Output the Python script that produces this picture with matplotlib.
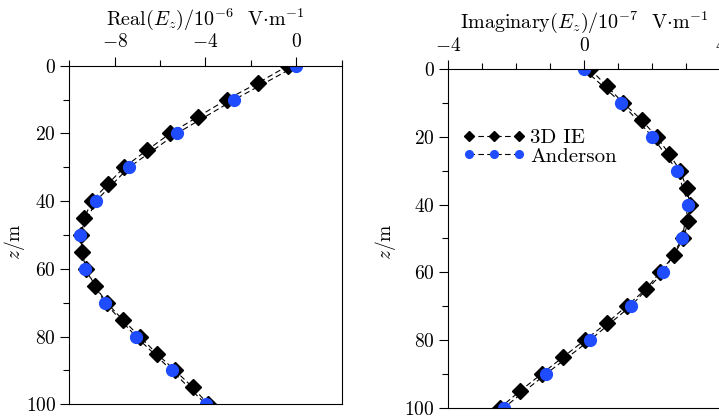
import matplotlib
matplotlib.use("Agg")
import matplotlib.pyplot as plt
from matplotlib.ticker import MultipleLocator

plt.rcParams["font.family"] = ["cmr10", "DejaVu Serif"]
plt.rcParams["mathtext.fontset"] = "cm"
plt.rcParams["axes.formatter.use_mathtext"] = True
plt.rcParams["axes.unicode_minus"] = True

# глубины
z_ie = [0, 5, 10, 15, 20, 25, 30, 35, 40, 45, 50, 55, 60, 65, 70, 75, 80, 85, 90, 95, 100]
z_and = [0, 10, 20, 30, 40, 50, 60, 70, 80, 90, 100]

# Real(Ez), 1e-6 V/m
real_ie = [-0.37, -1.67, -3.07, -4.32, -5.56, -6.59, -7.59, -8.31, -9.01, -9.34, -9.48,
           -9.45, -9.26, -8.87, -8.35, -7.65, -6.89, -6.15, -5.34, -4.56, -3.88]
real_and = [0.0, -2.73, -5.27, -7.37, -8.84, -9.52, -9.30, -8.43, -7.06, -5.49, -3.98]

# Imag(Ez), 1e-7 V/m
imag_ie = [0.18, 0.67, 1.15, 1.69, 2.13, 2.50, 2.82, 3.01, 3.11, 3.06, 2.91,
           2.64, 2.23, 1.82, 1.25, 0.67, 0.03, -0.61, -1.24, -1.87, -2.46]
imag_and = [0.0, 1.10, 2.01, 2.74, 3.06, 2.88, 2.33, 1.37, 0.18, -1.11, -2.35]

fig = plt.figure(figsize=(7.19, 4.19), dpi=100)
ax1 = fig.add_axes([0.0964, 0.035, 0.3788, 0.808])
ax2 = fig.add_axes([0.6227, 0.027, 0.3791, 0.808])

dash = (0, (5, 3))
fs = 14


def draw(ax, x_ie, x_and, xlim, major, label, ylab_x, ylab_y):
    ax.plot(x_ie, z_ie, color="black", linestyle=dash, linewidth=0.8,
            marker="D", markersize=8.5, markerfacecolor="black",
            markeredgecolor="black", label="3D IE")
    ax.plot(x_and, z_and, color="black", linestyle=dash, linewidth=0.8,
            marker="o", markersize=8.5, markerfacecolor="#1f4cff",
            markeredgecolor="#1f4cff", label="Anderson")
    ax.set_xlim(*xlim)
    ax.set_ylim(100, 0)
    ax.xaxis.tick_top()
    ax.xaxis.set_label_position("top")
    ax.xaxis.set_major_locator(MultipleLocator(major))
    ax.xaxis.set_minor_locator(MultipleLocator(major / 2))
    ax.yaxis.set_major_locator(MultipleLocator(20))
    ax.yaxis.set_minor_locator(MultipleLocator(10))
    ax.tick_params(which="major", direction="out", length=6.5, width=0.8,
                   labelsize=fs, pad=3)
    ax.tick_params(which="minor", direction="out", length=4, width=0.8)
    ax.tick_params(axis="x", which="both", bottom=False, top=True, pad=4)
    ax.tick_params(axis="y", which="both", right=False, left=True)
    for s in ax.spines.values():
        s.set_linewidth(0.8)
    ax.set_xlabel(label, fontsize=14.5, labelpad=6)
    ax.set_ylabel(r"$z/\mathrm{m}$", fontsize=fs)
    ax.yaxis.set_label_coords(ylab_x, ylab_y)


draw(ax1, real_ie, real_and, (-10, 2), 4,
     r"Real$(E_z)/10^{-6}$  V$\cdot$m$^{-1}$", -0.155, 0.48)
draw(ax2, imag_ie, imag_and, (-4, 4), 2,
     r"Imaginary$(E_z)/10^{-7}$  V$\cdot$m$^{-1}$", -0.182, 0.49)
ax2.xaxis.set_major_locator(MultipleLocator(4))

ax2.legend(loc="upper left", bbox_to_anchor=(0.0, 0.868), frameon=False,
           fontsize=15, numpoints=3, markerscale=0.65, handlelength=3.0,
           handletextpad=0.25, labelspacing=0.0, borderaxespad=0.3)

fig.savefig("out.png", dpi=100)
